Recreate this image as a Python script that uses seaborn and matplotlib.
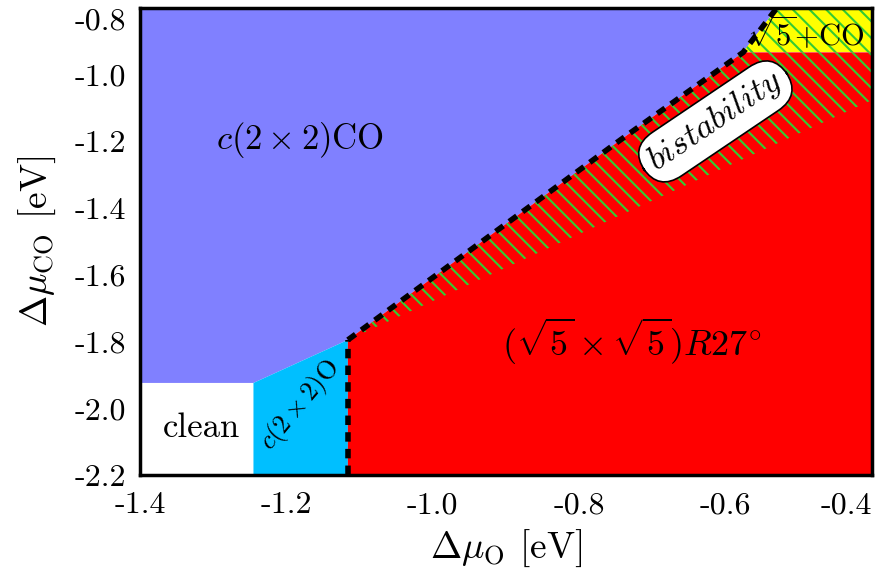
import numpy as np
import seaborn as sns
import matplotlib.pyplot as plt

# phase boundaries (eV)
blue_x = [-1.4, -1.4, -0.530, -0.576, -0.744, -1.116, -1.245]
blue_y = [-1.924, -0.8, -0.8, -0.933, -1.196, -1.795, -1.924]
clean_x = [-1.4, -1.245, -1.245, -1.4]
clean_y = [-2.2, -2.2, -1.924, -1.924]
cyan_x = [-1.245, -1.116, -1.116, -1.245]
cyan_y = [-2.2, -2.2, -1.795, -1.924]
red_x = [-1.116, -0.4, -0.4, -0.576, -0.744, -1.116]
red_y = [-2.2, -2.2, -0.933, -0.933, -1.196, -1.795]
bist_x = [-1.116, -0.744, -0.576, -0.4, -0.4]
bist_y = [-1.795, -1.196, -0.933, -0.933, -1.076]
yellow_x = [-0.576, -0.4, -0.4, -0.530]
yellow_y = [-0.933, -0.933, -0.8, -0.8]
dash_x = [-1.116, -0.744, -0.576, -0.530]
dash_y = [-1.795, -1.196, -0.933, -0.8]
vdash_x = [-1.116, -1.116]
vdash_y = [-2.2, -1.795]

xticks = [-1.4, -1.2, -1.0, -0.8, -0.6, -0.4]
yticks = [-2.2, -2.0, -1.8, -1.6, -1.4, -1.2, -1.0, -0.8]

sns.set_style('ticks')
plt.rcParams['font.family'] = 'serif'
plt.rcParams['font.serif'] = ['cmr10', 'DejaVu Serif']
plt.rcParams['mathtext.fontset'] = 'cm'
plt.rcParams['axes.unicode_minus'] = False
plt.rcParams['hatch.linewidth'] = 1.5
plt.rcParams['axes.edgecolor'] = 'black'
plt.rcParams['xtick.color'] = 'black'
plt.rcParams['ytick.color'] = 'black'
plt.rcParams['text.color'] = 'black'
plt.rcParams['axes.labelcolor'] = 'black'

fig = plt.figure(figsize=(8.84, 5.79), dpi=100)
ax = fig.add_axes([140/884, 1-475/579, 732/884, 467/579])

hatch_green = '#33cc33'
ax.fill(blue_x, blue_y, color='#8080ff', lw=0)
ax.fill(clean_x, clean_y, color='white', lw=0)
ax.fill(cyan_x, cyan_y, color='#00bfff', lw=0)
ax.fill(red_x, red_y, color='#ff0000', lw=0)
ax.fill(yellow_x, yellow_y, color='#ffff00', lw=0)
ax.fill(bist_x, bist_y, facecolor='none', edgecolor=hatch_green, lw=0, hatch='\\\\')
ax.fill(yellow_x, yellow_y, facecolor='none', edgecolor=hatch_green, lw=0, hatch='\\\\')

ax.plot(dash_x, dash_y, color='k', lw=4, ls='--', dashes=(1.7, 1.3))
ax.plot(vdash_x, vdash_y, color='k', lw=4, ls='--', dashes=(1.7, 1.3))

ax.text(-1.181, -1.196, r'$c(2\times 2)\mathrm{CO}$', fontsize=25, ha='center', va='center')
ax.text(-1.316, -2.06, 'clean', fontsize=25, ha='center', va='center')
ax.text(-1.181, -1.99, r'$c(2\times 2)\mathrm{O}$', fontsize=19, ha='center', va='center', rotation=50)
ax.text(-0.728, -1.80, r'$(\sqrt{5}\times\sqrt{5})R27^{\circ}$', fontsize=26, ha='center', va='center')
ax.text(-0.49, -0.875, r'$\sqrt{5}\mathrm{+CO}$', fontsize=22, ha='center', va='center')
ax.text(-0.614, -1.14, r'$bistability$', fontsize=25, ha='center', va='center', rotation=34,
        bbox=dict(boxstyle='round,pad=0.25,rounding_size=0.8', fc='white', ec='black', lw=1.2))

ax.set_xlim(-1.4, -0.4)
ax.set_ylim(-2.2, -0.8)
ax.set_xticks(xticks)
ax.set_xticklabels(['%.1f' % v for v in xticks])
ax.set_yticks(yticks)
ax.set_yticklabels(['%.1f' % v for v in yticks])
ax.tick_params(direction='in', length=9, width=1, labelsize=23, top=True, right=True)
ax.tick_params(axis='x', pad=12)
ax.tick_params(axis='y', pad=10)
ax.get_xticklabels()[-1].set_ha('right')
ax.get_yticklabels()[-1].set_va('top')
for s in ax.spines.values():
    s.set_linewidth(2.5)
    s.set_zorder(5)

ax.set_xlabel(r'$\Delta\mu_{\mathrm{O}}$ [eV]', fontsize=27, labelpad=6)
ax.set_ylabel(r'$\Delta\mu_{\mathrm{CO}}$ [eV]', fontsize=27, labelpad=12)

fig.savefig('out.png', dpi=100)
